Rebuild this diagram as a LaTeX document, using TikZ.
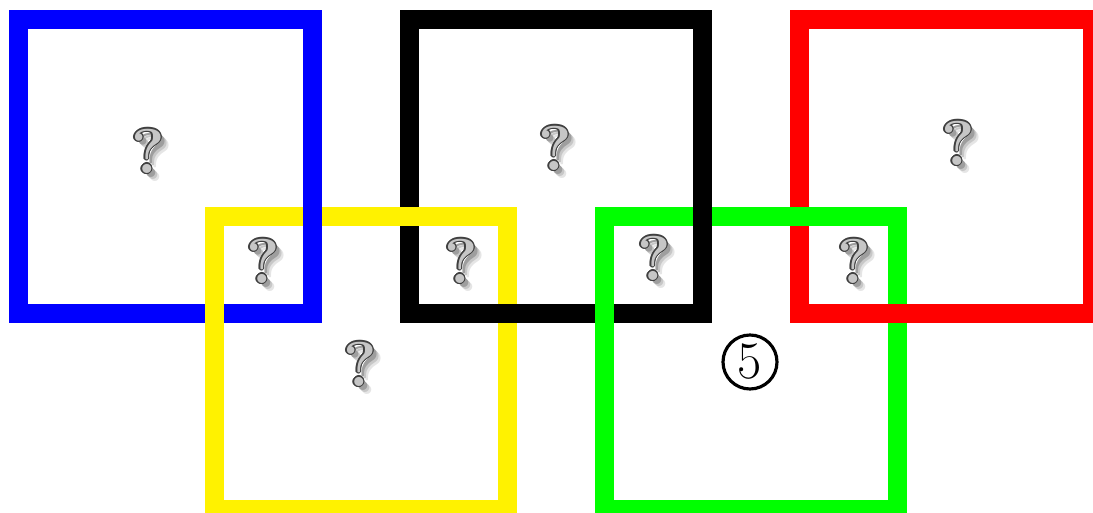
\documentclass[tikz,border=0pt]{standalone}
\usepackage{tikz}
\usepackage[copies]{contour}
\contourlength{0.7pt}
\contournumber{12}
\usetikzlibrary{calc}

% raised grey question mark with a soft shadow
\newcommand{\qglyph}{%
  \rlap{\kern4.5pt\raisebox{-4.5pt}{\textcolor{black!10}{?}}}%
  \rlap{\kern3.5pt\raisebox{-3.5pt}{\textcolor{black!22}{?}}}%
  \rlap{\kern2.5pt\raisebox{-2.5pt}{\textcolor{black!38}{?}}}%
  \contour{black!75}{\textcolor{gray!45}{?}}}

\begin{document}
\begin{tikzpicture}[
  x=0.02cm, y=-0.02cm,
  ring/.style={line width=0.38cm, miter limit=10},
  qmark/.style={inner sep=0pt, font=\fontsize{36}{36}\selectfont\bfseries},
  circnum/.style={circle, draw, line width=1.8pt, minimum size=1.08cm, inner sep=0pt, font=\fontsize{30}{30}\selectfont},
]
  \useasboundingbox (0,0) rectangle (1093,513);
  \clip (0,0) rectangle (1093,513);

  % the five squares
  \draw[ring, blue] (18.5,19.5) rectangle (312.5,313.5);
  \draw[ring, yellow] (214.5,216.5) rectangle (507.5,509.5);
  \draw[ring, black] (409.5,19.5) rectangle (702.5,313.5);
  \draw[ring, green] (604.5,216.5) rectangle (897.5,509.5);
  \draw[ring, red] (799.5,19.5) rectangle (1092.5,313.5);

  % crossings where the earlier square lies on top
  \begin{scope}
    \clip (298,200) rectangle (328,232);
    \draw[ring, blue] (18.5,19.5) rectangle (312.5,313.5);
  \end{scope}
  \begin{scope}
    \clip (394,200) rectangle (425,232);
    \draw[ring, yellow] (214.5,216.5) rectangle (507.5,509.5);
  \end{scope}
  \begin{scope}
    \clip (688,200) rectangle (718,232);
    \draw[ring, black] (409.5,19.5) rectangle (702.5,313.5);
  \end{scope}
  \begin{scope}
    \clip (784,200) rectangle (815,232);
    \draw[ring, green] (604.5,216.5) rectangle (897.5,509.5);
  \end{scope}

  % labels
  \node[qmark] (qblue) at (148,155) {\qglyph};
  \node[qmark] (qblack) at (555,152) {\qglyph};
  \node[qmark] (qred) at (958,147) {\qglyph};
  \node[qmark] (qby) at (263,265) {\qglyph};
  \node[qmark] (qyk) at (461,265) {\qglyph};
  \node[qmark] (qkg) at (654,262) {\qglyph};
  \node[qmark] (qgr) at (854,265) {\qglyph};
  \node[qmark] (qyellow) at (360,368) {\qglyph};
  \node[circnum] (five) at (750,362) {5};
\end{tikzpicture}
\end{document}
